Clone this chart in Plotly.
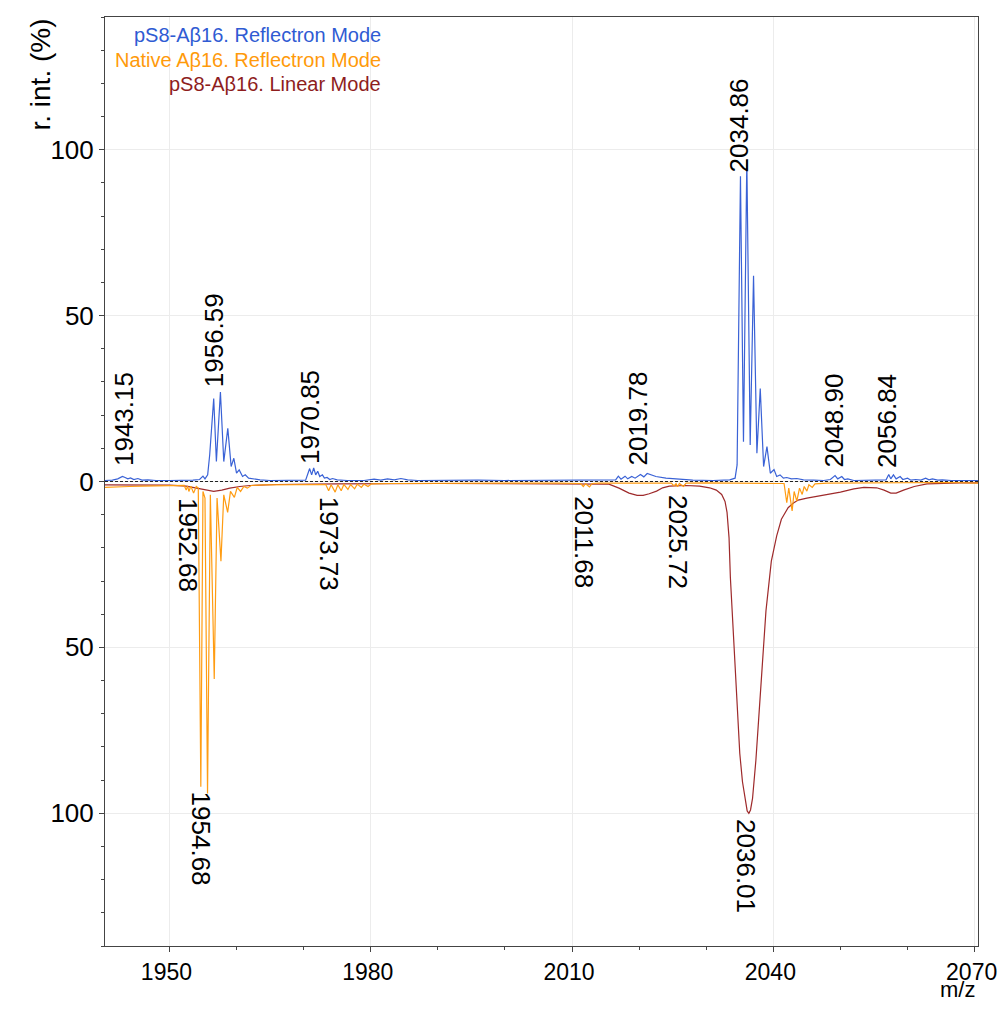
import plotly.graph_objects as go

# ---------------- data ----------------
# pS8-Aβ16, reflectron mode (blue, positive)
blue_mz = [1940.4, 1941.5, 1942.3, 1943.0, 1943.4, 1943.8, 1944.2, 1944.7, 1945.3, 1945.9,
           1946.8, 1948.0, 1950.0, 1952.0, 1953.5, 1954.5, 1955.0, 1955.3, 1955.7, 1956.0,
           1956.6, 1957.0, 1957.6, 1958.1, 1958.7, 1959.2, 1959.6, 1960.0, 1960.4, 1960.9,
           1961.3, 1961.8, 1962.5, 1963.5, 1965.0, 1968.0, 1970.3, 1970.9, 1971.2, 1971.5,
           1971.8, 1972.1, 1972.4, 1972.8, 1973.1, 1973.5, 1973.9, 1974.3, 1975.0, 1976.5,
           1979.0, 1980.5, 1981.5, 1982.5, 1983.5, 1984.5, 1985.5, 1987.0, 1990.0, 1993.0,
           1996.0, 2000.0, 2004.0, 2008.0, 2012.0, 2015.0, 2016.5, 2016.9, 2017.3, 2017.9,
           2018.3, 2018.9, 2019.4, 2020.2, 2020.7, 2021.2, 2022.5, 2024.0, 2026.0, 2028.0,
           2031.0, 2033.5, 2034.3, 2034.6, 2035.1, 2035.55, 2036.05, 2036.55, 2037.05, 2037.55,
           2038.05, 2038.55, 2039.05, 2039.55, 2040.1, 2040.5, 2041.0, 2041.5, 2042.0, 2042.7,
           2043.5, 2044.5, 2046.0, 2047.5, 2048.5, 2049.2, 2049.6, 2050.2, 2050.6, 2051.1,
           2052.0, 2054.0, 2056.0, 2056.8, 2057.2, 2057.5, 2057.9, 2058.3, 2058.9, 2059.3,
           2060.0, 2060.5, 2061.2, 2062.0, 2062.7, 2063.2, 2063.7, 2064.5, 2065.2, 2066.5,
           2068.0, 2070.5]
blue_int = [0.3, 0.4, 0.8, 1.5, 1.2, 0.8, 1.1, 0.6, 0.9, 0.4,
            0.5, 0.3, 0.3, 0.3, 0.4, 0.6, 1.6, 0.8, 2.0, 8.0,
            25.0, 6.0, 27.0, 6.0, 16.0, 4.5, 7.0, 2.5, 3.5, 1.5,
            2.0, 1.0, 0.8, 0.5, 0.3, 0.3, 0.4, 3.9, 2.0, 4.1,
            2.0, 3.1, 1.5, 2.0, 1.0, 1.2, 0.6, 0.9, 0.5, 0.3,
            0.3, 0.7, 0.4, 0.8, 0.5, 0.9, 0.5, 0.3, 0.4, 0.3,
            0.4, 0.3, 0.3, 0.3, 0.3, 0.4, 0.5, 1.6, 0.7, 1.6,
            0.8, 1.5, 1.0, 2.1, 1.4, 2.4, 1.5, 1.0, 0.6, 0.4,
            0.3, 0.5, 1.0, 5.0, 92.0, 12.0, 97.0, 11.0, 62.0, 8.5,
            28.0, 4.5, 10.5, 2.5, 3.6, 1.5, 2.0, 1.0, 1.2, 0.8,
            0.9, 0.5, 0.4, 0.3, 0.6, 1.8, 0.8, 1.5, 0.6, 0.8,
            0.3, 0.3, 0.4, 0.5, 2.1, 0.8, 2.0, 0.8, 1.5, 0.6,
            1.0, 0.4, 0.6, 0.4, 1.0, 0.5, 0.8, 0.4, 0.5, 0.3,
            0.3, 0.3]

# Native Aβ16, reflectron mode (orange, mirrored downwards)
orange_mz = [1940.4, 1942.0, 1944.0, 1946.0, 1948.0, 1950.0, 1951.5, 1952.2, 1952.5, 1952.7,
             1952.9, 1953.2, 1953.6, 1954.0, 1954.3, 1954.68, 1955.0, 1955.3, 1955.68, 1956.1,
             1956.68, 1957.1, 1957.68, 1958.1, 1958.68, 1959.1, 1959.68, 1960.1, 1960.6, 1961.1,
             1961.6, 1962.2, 1964.0, 1967.0, 1970.0, 1972.0, 1973.3, 1973.73, 1974.1, 1974.7,
             1975.1, 1975.6, 1976.0, 1976.6, 1977.0, 1977.6, 1978.0, 1978.6, 1979.0, 1979.6,
             1980.1, 1983.0, 1990.0, 2000.0, 2008.0, 2011.3, 2011.68, 2012.0, 2012.6, 2013.0,
             2014.0, 2020.0, 2024.8, 2025.2, 2025.5, 2025.72, 2026.0, 2026.6, 2027.0, 2030.0,
             2035.0, 2040.0, 2041.6, 2042.0, 2042.3, 2042.8, 2043.1, 2043.5, 2043.9, 2044.3,
             2044.6, 2045.0, 2045.3, 2045.8, 2046.2, 2048.0, 2055.0, 2062.0, 2066.0, 2070.5]
orange_int = [-1.8, -1.6, -1.5, -1.4, -1.3, -1.2, -1.1, -1.2, -2.6, -1.3,
              -3.0, -1.4, -3.5, -1.5, -2.0, -92.0, -3.0, -5.0, -94.0, -4.0,
              -59.5, -5.0, -24.0, -4.0, -9.3, -3.0, -4.8, -1.8, -3.0, -1.5,
              -2.0, -1.2, -1.0, -0.9, -0.8, -0.8, -0.9, -2.8, -1.0, -3.2,
              -1.0, -2.8, -0.9, -2.4, -0.9, -2.2, -0.8, -1.8, -0.8, -1.5,
              -0.7, -0.6, -0.5, -0.5, -0.5, -0.6, -1.5, -0.7, -1.6, -0.6,
              -0.5, -0.5, -0.5, -1.3, -0.6, -1.6, -0.6, -1.5, -0.5, -0.4,
              -0.4, -0.4, -0.6, -6.4, -2.0, -8.9, -3.0, -5.9, -2.0, -3.9,
              -1.5, -2.9, -1.0, -1.8, -0.7, -0.5, -0.4, -0.4, -0.3, -0.5]

# pS8-Aβ16, linear mode (dark red, mirrored downwards)
red_mz = [1940.4, 1945.0, 1950.0, 1952.5, 1954.0, 1955.5, 1956.6, 1957.8, 1959.0, 1960.5,
          1962.0, 1966.0, 1975.0, 1990.0, 2000.0, 2010.0, 2014.0, 2015.5, 2017.0, 2018.5,
          2019.7, 2020.6, 2021.5, 2022.6, 2023.5, 2024.5, 2027.0, 2029.0, 2030.5, 2031.5,
          2032.3, 2032.8, 2033.1, 2033.4, 2033.6, 2034.1, 2034.6, 2035.0, 2035.4, 2035.8,
          2036.1, 2036.35, 2036.6, 2036.9, 2037.4, 2037.8, 2038.2, 2038.9, 2039.7, 2040.5, 2041.2,
          2042.2, 2043.0, 2043.7, 2045.0, 2046.2, 2048.2, 2050.0, 2052.0, 2053.5, 2055.4,
          2056.5, 2057.5, 2058.3, 2059.4, 2061.0, 2062.9, 2065.0, 2067.8, 2070.5]
red_int = [-1.0, -1.0, -1.1, -1.4, -2.0, -2.7, -3.0, -2.6, -2.0, -1.5,
           -1.2, -0.9, -0.7, -0.6, -0.6, -0.6, -0.6, -0.8, -2.0, -3.5,
           -4.2, -4.2, -3.7, -2.9, -1.9, -1.4, -1.2, -1.4, -1.9, -2.6,
           -3.9, -6.0, -9.3, -17.0, -29.0, -49.0, -69.0, -82.0, -90.5, -96.5,
           -99.3, -100.0, -99.0, -95.5, -84.0, -72.0, -59.5, -39.0, -24.0, -16.4, -11.4,
           -7.9, -6.5, -5.6, -5.0, -4.6, -4.0, -3.2, -2.2, -1.8, -1.9,
           -2.6, -3.5, -3.5, -2.6, -1.5, -0.7, -0.5, -0.4, -0.4]

# peak annotations (label text, intensity where the label sits)
upper_labels = ["1943.15", "1956.59", "1970.85", "2019.78", "2034.86", "2048.90", "2056.84"]
upper_label_y = [4.2, 27.7, 4.8, 4.1, 92.5, 3.6, 3.6]
lower_labels = ["1952.68", "1954.68", "1973.73", "2011.68", "2025.72", "2036.01"]
lower_label_y = [-4.5, -92.8, -3.9, -3.9, -3.3, -101.0]

series_names = ["pS8-Aβ16. Reflectron Mode", "Native Aβ16. Reflectron Mode", "pS8-Aβ16. Linear Mode"]
series_colors = ["#3A62D6", "#FF9C12", "#9E2A2B"]
legend_colors = ["#2F5BD3", "#FF9A0A", "#8E1D1D"]

x_ticks = [1950, 1980, 2010, 2040, 2070]
y_ticks = [-100, -50, 0, 50, 100]
y_ticktext = ["100", "50", "0", "50", "100"]

FONT = "Liberation Sans, Arial, sans-serif"

fig = go.Figure()
for mz, inten, name, col in [
    (red_mz, red_int, series_names[2], series_colors[2]),
    (orange_mz, orange_int, series_names[1], series_colors[1]),
    (blue_mz, blue_int, series_names[0], series_colors[0]),
]:
    fig.add_trace(go.Scatter(x=mz, y=inten, mode="lines", name=name,
                             line=dict(color=col, width=1.2), showlegend=False))

fig.add_hline(y=0, line=dict(color="#222222", width=1, dash="3px,2px"))

annotations = []
for lab, yv in zip(upper_labels, upper_label_y):
    annotations.append(dict(x=float(lab), y=yv, xref="x", yref="y", text=lab, showarrow=False,
                            textangle=-90, xanchor="center", yanchor="bottom",
                            font=dict(family=FONT, size=26, color="black")))
for lab, yv in zip(lower_labels, lower_label_y):
    annotations.append(dict(x=float(lab), y=yv, xref="x", yref="y", text=lab, showarrow=False,
                            textangle=90, xanchor="center", yanchor="top",
                            font=dict(family=FONT, size=26, color="black")))

legend_y = [0.9806, 0.9537, 0.9279]
for name, col, ly in zip(series_names, legend_colors, legend_y):
    annotations.append(dict(x=0.3185, y=ly, xref="paper", yref="paper", text=name, showarrow=False,
                            xanchor="right", yanchor="middle",
                            font=dict(family=FONT, size=20, color=col)))

annotations.append(dict(x=-0.075, y=1.0, xref="paper", yref="paper", text="r. int. (%)",
                        showarrow=False, textangle=-90, xanchor="center", yanchor="top",
                        font=dict(family=FONT, size=28, color="black")))
annotations.append(dict(x=0.976, y=-0.0625, xref="paper", yref="paper", text="m/z",
                        showarrow=False, xanchor="center", yanchor="bottom",
                        font=dict(family=FONT, size=22, color="black")))

fig.update_layout(
    width=992, height=996,
    margin=dict(l=97, r=22, t=9, b=58, autoexpand=False),
    paper_bgcolor="white", plot_bgcolor="white",
    annotations=annotations,
    font=dict(family=FONT, color="black"),
)
fig.update_xaxes(range=[1940.4, 2070.5], tickvals=x_ticks, ticks="outside", ticklen=5,
                 tickcolor="#444444", showline=True, linecolor="#444444", linewidth=1, mirror=True,
                 showgrid=True, gridcolor="#ececec", gridwidth=1, zeroline=False,
                 ticklabeloverflow="allow", ticklabelshift=-3,
                 tickfont=dict(family=FONT, size=23, color="black"),
                 minor=dict(dtick=10, tick0=1950, ticks="outside", ticklen=3, tickcolor="#444444",
                            showgrid=False))
fig.update_yaxes(range=[-140, 140], tickvals=y_ticks, ticktext=y_ticktext, ticks="outside", ticklen=5,
                 tickcolor="#444444", showline=True, linecolor="#444444", linewidth=1, mirror=True,
                 showgrid=True, gridcolor="#ececec", gridwidth=1, zeroline=False,
                 tickfont=dict(family=FONT, size=26, color="black"),
                 minor=dict(dtick=10, tick0=0, ticks="outside", ticklen=3, tickcolor="#444444",
                            showgrid=False))

fig.write_html("out.html")
